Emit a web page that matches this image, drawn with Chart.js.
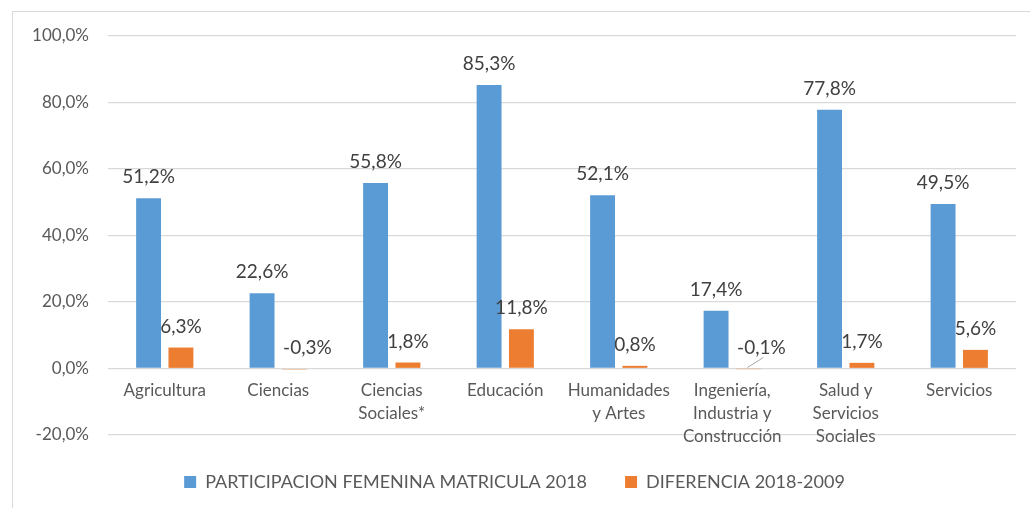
<!DOCTYPE html>
<html>
<head>
<meta charset="utf-8">
<script src="https://cdn.jsdelivr.net/npm/chart.js@4.4.0/dist/chart.umd.min.js"></script>
<style>
    html, body { margin: 0; padding: 0; background: #ffffff; }
    #marco {
        position: absolute; left: 12px; top: 11px;
        width: 1018px; height: 497px;
        border-left: 1px solid #d9d9d9; border-top: 1px solid #d9d9d9;
    }
</style>
</head>
<body>
<div id="marco"><canvas id="grafico"></canvas></div>
<script>
// Datos del gráfico
const categorias = [
    'Agricultura',
    'Ciencias',
    ['Ciencias', 'Sociales*'],
    'Educación',
    ['Humanidades', 'y Artes'],
    ['Ingeniería,', 'Industria y', 'Construcción'],
    ['Salud y', 'Servicios', 'Sociales'],
    'Servicios'
];
const participacion2018 = [51.2, 22.6, 55.8, 85.3, 52.1, 17.4, 77.8, 49.5];
const diferencia = [6.3, -0.3, 1.8, 11.8, 0.8, -0.1, 1.7, 5.6];
const ticksY = [-20, 0, 20, 40, 60, 80, 100];

const fuente = 'Lato, "Open Sans", sans-serif';

function formatoPct(v) {
    return v.toFixed(1).replace('.', ',') + '%';
}

// Etiquetas de datos sobre las barras
const etiquetasPlugin = {
    id: 'etiquetas',
    afterDatasetsDraw(chart) {
        const ctx = chart.ctx;
        const yCero = chart.scales.y.getPixelForValue(0);
        ctx.save();
        ctx.font = '19px ' + fuente;
        ctx.textAlign = 'center';
        ctx.textBaseline = 'middle';
        chart.data.datasets.forEach((ds, i) => {
            const meta = chart.getDatasetMeta(i);
            meta.data.forEach((bar, j) => {
                const v = ds.data[j];
                let x = bar.x;
                const top = v >= 0 ? bar.y : yCero;
                if (v < 0) x += 13;
                // linea guia para la etiqueta desplazada de una barra casi nula
                if (v < 0 && v > -0.2) {
                    ctx.strokeStyle = '#a6a6a6';
                    ctx.lineWidth = 1;
                    ctx.beginPath();
                    ctx.moveTo(bar.x - 1, yCero - 1);
                    ctx.lineTo(bar.x + 15, yCero - 11);
                    ctx.stroke();
                }
                ctx.fillStyle = '#404040';
                ctx.fillText(formatoPct(v), x, top - 21);
            });
        });
        ctx.restore();
    }
};

const ctx = document.getElementById('grafico').getContext('2d');
new Chart(ctx, {
    type: 'bar',
    data: {
        labels: categorias,
        datasets: [{
            label: 'PARTICIPACION FEMENINA MATRICULA 2018',
            data: participacion2018,
            backgroundColor: '#5B9BD5',
            categoryPercentage: 0.57,
            barPercentage: 0.77
        }, {
            label: 'DIFERENCIA 2018-2009',
            data: diferencia,
            backgroundColor: '#ED7D31',
            categoryPercentage: 0.57,
            barPercentage: 0.77
        }]
    },
    options: {
        responsive: true,
        maintainAspectRatio: false,
        animation: false,
        layout: { padding: { top: 24, right: 15, left: 0, bottom: 8 } },
        scales: {
            y: {
                min: -20,
                max: 100,
                afterBuildTicks: (scale) => { scale.ticks = ticksY.map(v => ({ value: v })); },
                afterFit: (scale) => { scale.width = 95; },
                ticks: {
                    color: '#595959',
                    font: { family: fuente, size: 17 },
                    padding: 3,
                    callback: (v) => formatoPct(v)
                },
                grid: { color: '#d9d9d9', drawTicks: true, tickLength: 16, tickColor: 'transparent', lineWidth: 1.3 },
                border: { display: false }
            },
            x: {
                position: { y: 0 },
                ticks: {
                    color: '#595959',
                    font: { family: fuente, size: 17, lineHeight: 1.35 },
                    padding: 11,
                    autoSkip: false,
                    maxRotation: 0
                },
                grid: { display: false, drawTicks: false },
                border: { display: false }
            }
        },
        plugins: {
            legend: {
                position: 'bottom',
                labels: {
                    color: '#595959',
                    font: { family: fuente, size: 18 },
                    boxWidth: 12,
                    boxHeight: 12,
                    padding: 38
                }
            },
            tooltip: { enabled: false }
        }
    },
    plugins: [etiquetasPlugin]
});
</script>
</body>
</html>
